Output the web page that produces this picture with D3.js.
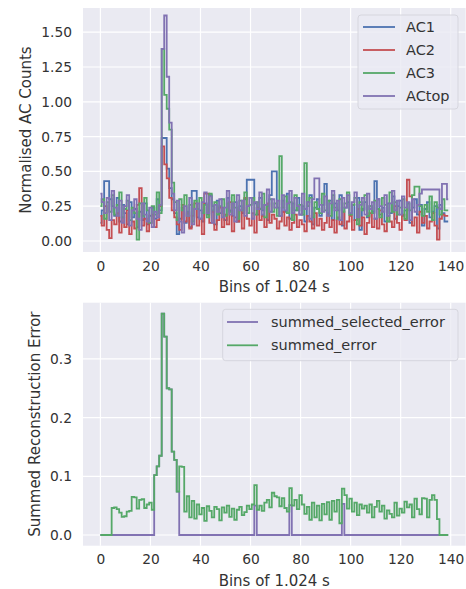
<!DOCTYPE html>
<html>
<head>
<meta charset="utf-8">
<script src="https://cdn.jsdelivr.net/npm/d3@7"></script>
<style>
  html, body { margin: 0; padding: 0; background: #ffffff; }
  svg text { font-family: "DejaVu Sans", sans-serif; fill: #333333; }
</style>
</head>
<body>
<svg id="chart" width="466" height="589"></svg>
<script>
// Anti-coincidence counts per 1.024 s bin (normalised)
const ac1 = [
  0.13,0.22,0.43,0.43,0.30,0.25,0.18,0.31,0.14,0.26,
  0.20,0.12,0.28,0.17,0.23,0.10,0.21,0.15,0.27,0.12,
  0.18,0.24,0.16,0.30,0.22,0.74,0.74,0.52,0.38,0.30,
  0.20,0.05,0.16,0.24,0.13,0.21,0.10,0.36,0.36,0.17,
  0.22,0.14,0.27,0.19,0.33,0.25,0.12,0.29,0.20,0.24,
  0.15,0.31,0.22,0.18,0.28,0.14,0.25,0.20,0.30,0.44,
  0.44,0.44,0.27,0.19,0.31,0.22,0.26,0.15,0.33,0.50,
  0.50,0.24,0.18,0.29,0.21,0.34,0.16,0.27,0.22,0.31,
  0.19,0.25,0.14,0.28,0.33,0.12,0.24,0.30,0.18,0.26,
  0.41,0.20,0.29,0.15,0.27,0.22,0.33,0.11,0.24,0.28,
  0.19,0.26,0.15,0.31,0.08,0.23,0.28,0.17,0.25,0.21,
  0.43,0.30,0.19,0.24,0.14,0.27,0.20,0.32,0.16,0.25,
  0.29,0.18,0.22,0.27,0.13,0.24,0.30,0.19,0.26,0.11,
  0.23,0.28,0.17,0.21,0.25,0.09,0.26,0.20,0.14,0.14
];
const ac2 = [
  0.18,0.11,0.25,0.08,0.02,0.15,0.12,0.20,0.06,0.17,
  0.10,0.22,0.05,0.14,0.09,0.26,0.38,0.11,0.16,0.07,
  0.13,0.19,0.10,0.15,0.25,0.68,0.55,0.45,0.31,0.22,
  0.17,0.12,0.08,0.26,0.14,0.20,0.09,0.18,0.27,0.11,
  0.16,0.05,0.34,0.34,0.13,0.21,0.08,0.15,0.24,0.10,
  0.19,0.12,0.28,0.07,0.17,0.14,0.22,0.09,0.31,0.16,
  0.11,0.20,0.06,0.24,0.15,0.18,0.10,0.27,0.13,0.19,
  0.16,0.09,0.14,0.21,0.11,0.17,0.08,0.13,0.19,0.10,
  0.15,0.12,0.07,0.18,0.14,0.09,0.20,0.11,0.16,0.08,
  0.13,0.19,0.10,0.15,0.06,0.17,0.12,0.21,0.09,0.14,
  0.18,0.08,0.15,0.23,0.11,0.17,0.05,0.13,0.20,0.10,
  0.16,0.09,0.22,0.12,0.07,0.18,0.14,0.10,0.25,0.13,
  0.08,0.19,0.15,0.44,0.32,0.11,0.17,0.06,0.21,0.13,
  0.18,0.09,0.14,0.20,0.11,0.01,0.16,0.19,0.18,0.18
];
const ac3 = [
  0.25,0.30,0.16,0.28,0.21,0.33,0.19,0.26,0.35,0.17,
  0.23,0.29,0.15,0.24,0.20,0.01,0.27,0.18,0.31,0.22,
  0.13,0.25,0.19,0.35,0.20,1.38,1.05,0.95,0.80,0.42,
  0.28,0.15,0.30,0.22,0.33,0.18,0.26,0.14,0.29,0.23,
  0.31,0.20,0.26,0.17,0.34,0.22,0.28,0.19,0.25,0.30,
  0.18,0.27,0.21,0.33,0.24,0.16,0.29,0.22,0.35,0.20,
  0.26,0.31,0.19,0.28,0.23,0.34,0.17,0.25,0.30,0.21,
  0.27,0.18,0.61,0.24,0.32,0.20,0.28,0.15,0.33,0.22,
  0.26,0.19,0.56,0.25,0.31,0.17,0.28,0.23,0.20,0.34,
  0.22,0.29,0.18,0.33,0.24,0.16,0.30,0.21,0.27,0.35,
  0.19,0.26,0.31,0.12,0.28,0.22,0.33,0.18,0.25,0.20,
  0.29,0.23,0.17,0.31,0.26,0.14,0.35,0.21,0.28,0.19,
  0.24,0.30,0.16,0.27,0.22,0.33,0.39,0.39,0.25,0.18,
  0.26,0.21,0.32,0.15,0.28,0.24,0.19,0.30,0.22,0.22
];
const acTop = [
  0.34,0.28,0.20,0.31,0.15,0.36,0.24,0.18,0.29,0.13,
  0.25,0.33,0.11,0.22,0.30,0.16,0.08,0.27,0.19,0.14,
  0.24,0.10,0.21,0.17,0.26,1.38,1.62,1.18,0.85,0.34,
  0.22,0.29,0.14,0.06,0.25,0.18,0.31,0.12,0.23,0.27,
  0.16,0.28,0.35,0.20,0.32,0.13,0.26,0.21,0.30,0.17,
  0.24,0.36,0.19,0.27,0.14,0.33,0.22,0.29,0.18,0.25,
  0.31,0.16,0.28,0.23,0.35,0.19,0.26,0.37,0.21,0.30,
  0.24,0.29,0.18,0.33,0.22,0.27,0.36,0.20,0.31,0.25,
  0.19,0.34,0.23,0.28,0.16,0.30,0.45,0.45,0.26,0.21,
  0.32,0.18,0.27,0.36,0.22,0.29,0.15,0.31,0.24,0.33,
  0.20,0.28,0.35,0.17,0.26,0.31,0.19,0.34,0.23,0.28,
  0.16,0.30,0.25,0.21,0.33,0.18,0.27,0.36,0.22,0.29,
  0.19,0.32,0.24,0.28,0.15,0.30,0.21,0.26,0.34,0.37,
  0.37,0.37,0.37,0.37,0.37,0.37,0.23,0.41,0.41,0.30
];

// Summed reconstruction error per bin
const summedError = [
  0,0,0,0,0,
  0.046,0.047,0.044,0.038,0.031,
  0.032,0.040,0.041,0.065,0.064,
  0.045,0.060,0.061,0.046,0.052,
  0.055,0.043,0.102,0.117,0.135,
  0.377,0.338,0.250,0.248,0.142,
  0.128,0.074,0.117,0.116,0.040,
  0.066,0.030,0.058,0.028,0.052,
  0.035,0.046,0.024,0.049,0.041,
  0.030,0.048,0.044,0.025,0.047,
  0.038,0.050,0.031,0.045,0.026,
  0.043,0.048,0.034,0.039,0.050,
  0.044,0.052,0.085,0.043,0.050,
  0.041,0.055,0.060,0.047,0.072,
  0.066,0.064,0.049,0.063,0.046,
  0.040,0.080,0.050,0.060,0.044,
  0.068,0.052,0.036,0.048,0.026,
  0.055,0.030,0.050,0.025,0.053,
  0.035,0.056,0.026,0.058,0.040,
  0.060,0.020,0.079,0.068,0.045,
  0.062,0.040,0.055,0.034,0.052,
  0.045,0.050,0.038,0.052,0.030,
  0.048,0.058,0.040,0.050,0.028,
  0.042,0.036,0.030,0.055,0.033,
  0.045,0.038,0.057,0.047,0.052,
  0.030,0.062,0.044,0.035,0.063,
  0.062,0.030,0.060,0.068,0.060,
  0.027,0,0,0,0
];
// Error kept only for the selected bins
const summedSelectedError = [
  0,0,0,0,0,0,0,0,0,0,
  0,0,0,0,0,0,0,0,0,0,
  0,0,0.102,0.117,0.135,0.377,0.338,0.250,0.248,0.142,
  0.128,0.074,0,0,0,0,0,0,0,0,
  0,0,0,0,0,0,0,0,0,0,
  0,0,0,0,0,0,0,0,0,0,
  0,0,0.050,0,0,0,0,0,0,0,
  0,0,0,0,0,0,0.051,0,0,0,
  0,0,0,0,0,0,0,0,0,0,
  0,0,0,0,0,0,0,0.053,0,0,
  0,0,0,0,0,0,0,0,0,0,
  0,0,0,0,0,0,0,0,0,0,
  0,0,0,0,0,0,0,0,0,0,
  0,0,0,0,0,0,0,0,0,0
];

const bins = d3.range(ac1.length);
const xTicks = [0, 20, 40, 60, 80, 100, 120, 140];
const topYTicks = [0.00, 0.25, 0.50, 0.75, 1.00, 1.25, 1.50];
const bottomYTicks = [0.0, 0.1, 0.2, 0.3];

const topSeries = [
  { name: "AC1", values: ac1, color: "#4c72b0" },
  { name: "AC2", values: ac2, color: "#c44e52" },
  { name: "AC3", values: ac3, color: "#55a868" },
  { name: "ACtop", values: acTop, color: "#8172b2" }
];
const bottomSeries = [
  { name: "summed_selected_error", values: summedSelectedError, color: "#8172b2" },
  { name: "summed_error", values: summedError, color: "#55a868" }
];

const svg = d3.select("#chart");
const left = 83, right = 465.6;

function panel(cfg) {
  const x = d3.scaleLinear().domain([-6.95, 145.95]).range([left, right]);
  const y = d3.scaleLinear().domain(cfg.yDomain).range([cfg.bottom, cfg.top]);
  const g = svg.append("g");

  g.append("rect")
    .attr("x", left).attr("y", cfg.top)
    .attr("width", right - left).attr("height", cfg.bottom - cfg.top)
    .attr("fill", "#eaeaf2");

  // grid
  g.selectAll(".gx").data(xTicks).join("line")
    .attr("x1", d => x(d)).attr("x2", d => x(d))
    .attr("y1", cfg.top).attr("y2", cfg.bottom)
    .attr("stroke", "#ffffff").attr("stroke-width", 1.2);
  g.selectAll(".gy").data(cfg.yTicks).join("line")
    .attr("x1", left).attr("x2", right)
    .attr("y1", d => y(d)).attr("y2", d => y(d))
    .attr("stroke", "#ffffff").attr("stroke-width", 1.2);

  // axes (tick labels only, seaborn darkgrid style)
  const xAxis = d3.axisBottom(x).tickValues(xTicks).tickSize(0).tickPadding(9)
    .tickFormat(d3.format("d"));
  const gx = g.append("g").attr("transform", `translate(0,${cfg.bottom})`).call(xAxis);
  const yAxis = d3.axisLeft(y).tickValues(cfg.yTicks).tickSize(0).tickPadding(11)
    .tickFormat(cfg.yFormat);
  const gy = g.append("g").attr("transform", `translate(${left},0)`).call(yAxis);
  [gx, gy].forEach(a => {
    a.select(".domain").remove();
    a.selectAll("text").attr("font-size", 13.8)
      .attr("font-family", "DejaVu Sans, sans-serif").attr("fill", "#333333");
  });

  // step lines
  const line = d3.line()
    .x((d, i) => x(bins[i]))
    .y(d => y(d))
    .curve(d3.curveStep);
  g.selectAll(".series").data(cfg.series).join("path")
    .attr("d", s => line(s.values))
    .attr("fill", "none")
    .attr("stroke", s => s.color)
    .attr("stroke-width", 1.8)
    .attr("stroke-linejoin", "miter");

  // axis titles
  g.append("text")
    .attr("x", (left + right) / 2).attr("y", cfg.xLabelY)
    .attr("text-anchor", "middle").attr("font-size", 15)
    .text("Bins of 1.024 s");
  g.append("text")
    .attr("transform", `translate(${cfg.yLabelX},${(cfg.top + cfg.bottom) / 2}) rotate(-90)`)
    .attr("text-anchor", "middle").attr("font-size", 15)
    .text(cfg.yLabel);

  // legend
  const L = cfg.legend;
  const lg = g.append("g");
  lg.append("rect")
    .attr("x", L.x).attr("y", L.y).attr("width", L.w).attr("height", L.h)
    .attr("rx", 3).attr("fill", "#eaeaf2").attr("fill-opacity", 0.8)
    .attr("stroke", "#d6d6de").attr("stroke-width", 1);
  const rows = lg.selectAll(".row").data(cfg.series).join("g")
    .attr("transform", (d, i) => `translate(0,${L.firstRow + i * L.rowGap})`);
  rows.append("line")
    .attr("x1", L.hx1).attr("x2", L.hx2).attr("y1", 0).attr("y2", 0)
    .attr("stroke", d => d.color).attr("stroke-width", 1.8);
  rows.append("text")
    .attr("x", L.tx).attr("y", 0).attr("dy", "0.35em")
    .attr("font-size", 14.5)
    .text(d => d.name);
}

panel({
  top: 8, bottom: 252,
  yDomain: [-0.079, 1.674],
  yTicks: topYTicks,
  yFormat: d3.format(".2f"),
  series: topSeries,
  xLabelY: 292,
  yLabelX: 31,
  yLabel: "Normalised AC Counts",
  legend: { x: 358, y: 15, w: 100, h: 94, firstRow: 27, rowGap: 23, hx1: 363, hx2: 395, tx: 406 }
});

panel({
  top: 302.7, bottom: 545.7,
  yDomain: [-0.0182, 0.3957],
  yTicks: bottomYTicks,
  yFormat: d3.format(".1f"),
  series: bottomSeries,
  xLabelY: 586,
  yLabelX: 40,
  yLabel: "Summed Reconstruction Error",
  legend: { x: 222.7, y: 309.3, w: 235.3, h: 51.4, firstRow: 322, rowGap: 23.3, hx1: 227, hx2: 258, tx: 271 }
});
</script>
</body>
</html>
